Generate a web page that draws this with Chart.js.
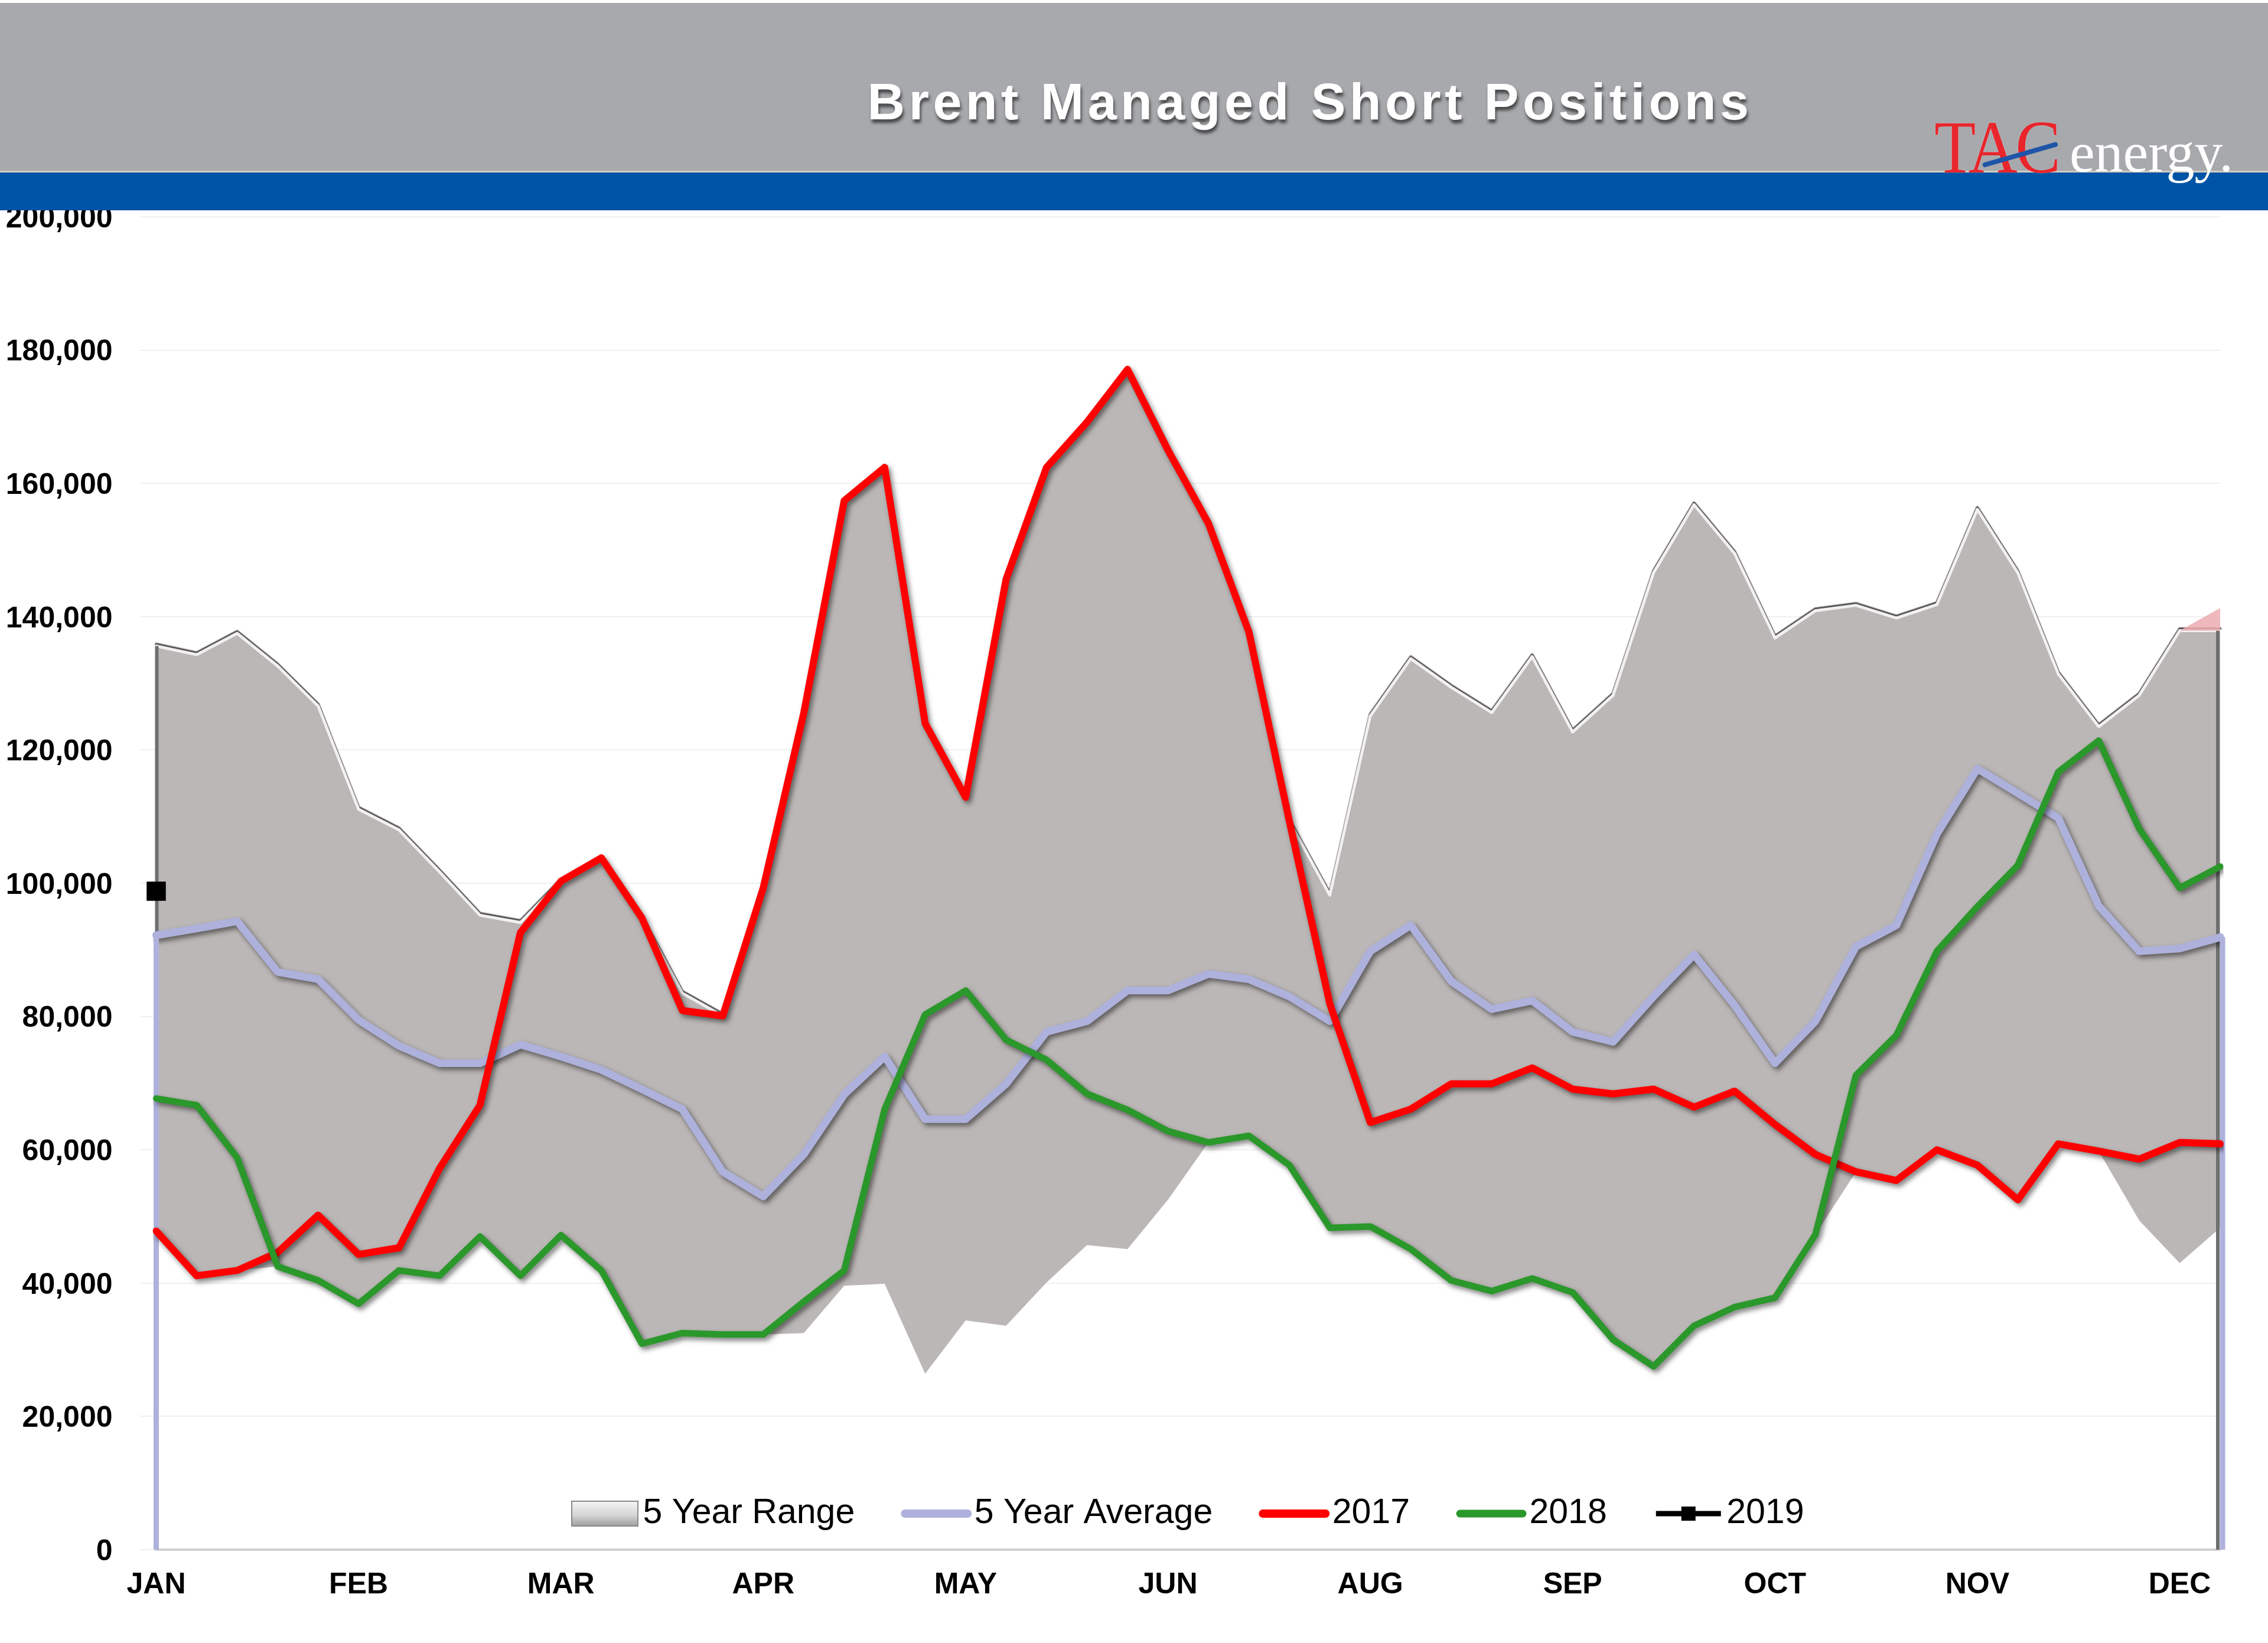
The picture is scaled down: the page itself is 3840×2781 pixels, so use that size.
<!DOCTYPE html>
<html><head><meta charset="utf-8">
<script src="https://cdn.jsdelivr.net/npm/chart.js@4.4.1/dist/chart.umd.min.js"></script>
<style>
html,body{margin:0;padding:0;background:#fff;}
#wrap{position:relative;width:3840px;height:2781px;overflow:hidden;background:#fff;}
#c{position:absolute;left:0;top:0;}
#hdrGray{position:absolute;left:0;top:5px;width:3840px;height:284px;background:#A7A9AC;}
#hdrLine{position:absolute;left:0;top:289px;width:3840px;height:3px;background:#D3CCC4;}
#hdrBlue{position:absolute;left:0;top:292px;width:3840px;height:64px;background:#0054A5;}
#title{position:absolute;left:2218px;top:128px;transform:translateX(-50%);font:bold 88px "Liberation Sans",Arial,sans-serif;line-height:1;letter-spacing:6.5px;color:#fff;white-space:nowrap;text-shadow:2px 6px 5px rgba(40,40,40,0.75);}
#logoTAC{position:absolute;left:3275px;top:185px;font:128px "Liberation Serif","Times New Roman",serif;line-height:1;color:#E8262C;letter-spacing:-4px;white-space:nowrap;transform:scaleX(0.9);transform-origin:0 0;text-shadow:0 0 2px rgba(255,255,255,0.5);}
#logoEnergy{position:absolute;left:3504px;top:210px;font:96px "Liberation Serif","Times New Roman",serif;line-height:1;color:#fff;white-space:nowrap;}
#logoSlash{position:absolute;left:3357px;top:276px;width:132px;height:8px;background:#1F55A8;transform-origin:0 50%;transform:rotate(-16deg);border-radius:4px;}
</style></head>
<body>
<div id="wrap">
<canvas id="c" width="3840" height="2781"></canvas>
<div id="hdrGray"></div>
<div id="hdrLine"></div>
<div id="hdrBlue"></div>
<div id="title">Brent Managed Short Positions</div>
<div id="logoTAC">TAC</div>
<div id="logoSlash"></div>
<div id="logoEnergy">energy.</div>
</div>
<script>
// ---- data ----
const weekLabels = ['JAN','','','','','FEB','','','','','MAR','','','','','APR','','','','','MAY','','','','','JUN','','','','','AUG','','','','','SEP','','','','','OCT','','','','','NOV','','','','','DEC',''];
const seriesNames = ['5 Year Range','5 Year Average','2017','2018','2019'];
const rangeHigh = [135600,134300,137500,132600,126600,111100,108000,101700,95200,94100,100300,103800,94800,83500,80100,99300,125500,157400,162400,124000,112900,145600,162400,169200,177100,165000,154000,137700,109300,98200,125100,133700,129400,125600,134000,122700,128200,146600,156800,149500,136800,140900,141700,139800,141800,156100,146600,131400,123500,128200,137900,137900];
const rangeLow = [47800,41100,41900,42500,40400,36900,41900,41100,47000,41100,47200,41900,30900,32500,32300,32300,32500,39600,39900,26400,34400,33600,40100,45700,45100,52500,61100,62100,57700,48300,48500,45100,40400,38800,40700,38600,31500,27500,33600,36400,37800,47300,56700,55400,60000,57700,52500,60900,59800,49400,43000,48300];
const rangeTip = [null,null,null,null,null,null,null,null,null,null,null,null,null,null,null,null,null,null,null,null,null,null,null,null,null,null,null,null,null,null,null,null,null,null,null,null,null,null,null,null,null,null,null,null,null,null,null,null,null,null,137900,141300];
const avg5 = [92200,93200,94300,86700,85600,79500,75600,73000,73000,75800,74000,72000,69100,66100,56700,53000,59300,68300,74000,64600,64600,69900,77700,79300,83900,83900,86400,85600,83000,79300,89800,93700,85300,81100,82400,77700,76200,83000,89300,81700,73000,79300,90500,93700,107400,117200,113500,109800,96600,89800,90200,91900];
const y2017 = [47800,41100,41900,44600,50200,44300,45300,57200,66700,92600,100300,103800,94800,80900,80100,99300,125500,157400,162400,124000,112900,145600,162400,169200,177100,165000,154000,137700,109300,81900,64100,66100,69900,69900,72300,69100,68400,69100,66400,68800,63800,59300,56700,55400,60000,57700,52500,60900,59800,58600,61100,60900];
const y2018 = [67700,66700,58800,42500,40400,36900,41900,41100,47000,41100,47200,41900,30900,32500,32300,32300,37200,41900,66100,80300,83900,76500,73500,68400,66000,62800,61100,62100,57700,48300,48500,45100,40400,38800,40700,38600,31500,27500,33600,36400,37800,47300,71200,77200,89800,96500,102700,116700,121400,108200,99300,102500];
const y2019 = [98800,null,null,null,null,null,null,null,null,null,null,null,null,null,null,null,null,null,null,null,null,null,null,null,null,null,null,null,null,null,null,null,null,null,null,null,null,null,null,null,null,null,null,null,null,null,null,null,null,null,null,null];
const yMin = 0, yMax = 200000, yStep = 20000;

// ---- styles ----
const C_RANGE = '#BBB7B6', C_AVG = '#AEB1DB', C_2017 = '#FF0000', C_2018 = '#2A982A', C_2019 = '#000000';
const LEG_FS = 59, LEG_PAD = 103, LEG_BOXW = 70, LEG_CENTER_ABOVE_AXIS = 61, LEG_SHIFT = 20;
const FONT = '"Liberation Sans", Arial, sans-serif';
const lineShadow = {color:'rgba(0,0,0,0.5)', blur:8, x:4, y:5};

function mk(w,h,draw){const c=document.createElement('canvas');c.width=w;c.height=h;draw(c.getContext('2d'),w,h);return c;}
const iconRange = mk(114,44,(g,w,h)=>{const gr=g.createLinearGradient(0,0,0,h);gr.addColorStop(0,'#f6f6f6');gr.addColorStop(0.55,'#d6d6d6');gr.addColorStop(1,'#9c9c9c');g.fillStyle=gr;g.fillRect(1,1,w-2,h-2);g.strokeStyle='#8a8a8a';g.lineWidth=2;g.strokeRect(1,1,w-2,h-2);});
function lineIcon(col,lw){return mk(122,22,(g,w,h)=>{g.strokeStyle=col;g.lineWidth=lw;g.lineCap='round';g.beginPath();g.moveTo(8,h/2);g.lineTo(w-8,h/2);g.stroke();});}
const iconAvg = lineIcon(C_AVG,14), icon17 = lineIcon(C_2017,14), icon18 = lineIcon(C_2018,13);
const icon19 = mk(122,30,(g,w,h)=>{g.strokeStyle=C_2019;g.lineWidth=9;g.beginPath();g.moveTo(6,h/2);g.lineTo(w-6,h/2);g.stroke();g.fillStyle=C_2019;g.fillRect(w/2-12,h/2-12,24,24);});
const legendIcons = [iconRange, iconAvg, icon17, icon18, icon19];
const legendDatasetIdx = [1,3,4,5,6];

const fxPlugin = {
  id:'fx',
  afterLayout(chart){
    const lg = chart.legend, ca = chart.chartArea; if(!lg) return;
    const h = lg.height;
    const top = ca.bottom - LEG_CENTER_ABOVE_AXIS - LEG_PAD - LEG_FS/2;
    lg.top = top; lg.bottom = top + h; lg.left = ca.left + LEG_SHIFT; lg.right = ca.right; lg.width = lg.right - lg.left;
  },
  beforeDatasetDraw(chart,args){
    const ds = chart.data.datasets[args.index];
    if(ds.shadow){const c=chart.ctx;c.save();c.shadowColor=ds.shadow.color;c.shadowBlur=ds.shadow.blur;c.shadowOffsetX=ds.shadow.x;c.shadowOffsetY=ds.shadow.y;}
  },
  afterDatasetDraw(chart,args){
    const ds = chart.data.datasets[args.index];
    const c = chart.ctx;
    if(ds.shadow) c.restore();
    if(ds.edges){
      const pts = args.meta.data, yb = chart.scales.y.getPixelForValue(yMin);
      const p0 = pts[0], p1 = pts[pts.length-1], e = ds.edges;
      c.save(); c.strokeStyle=e.color; c.lineWidth=e.width; c.lineCap='butt';
      c.beginPath(); c.moveTo(p0.x+e.dx0,p0.y); c.lineTo(p0.x+e.dx0,yb);
      c.moveTo(p1.x+e.dx1,p1.y); c.lineTo(p1.x+e.dx1,yb); c.stroke(); c.restore();
    }
  }
};

const common = {pointRadius:0, pointHoverRadius:0, tension:0, borderJoinStyle:'round', borderCapStyle:'round'};
new Chart(document.getElementById('c').getContext('2d'), {
  type:'line',
  data:{
    labels: weekLabels,
    datasets:[
      Object.assign({label:'low', data:rangeLow, borderWidth:0, fill:false, order:10}, common),
      Object.assign({label:seriesNames[0], data:rangeHigh, borderColor:'#F2F0F0', borderWidth:5, backgroundColor:C_RANGE, fill:'-1', order:9,
        shadow:{color:'rgba(70,70,70,0.95)', blur:1.5, x:0, y:-3}, edges:{color:'#6f6f6f', width:6, dx0:1, dx1:-4}}, common),
      Object.assign({label:'tip', data:rangeTip, borderWidth:0, backgroundColor:'rgba(236,172,176,0.85)', fill:1, order:8}, common),
      Object.assign({label:seriesNames[1], data:avg5, borderColor:C_AVG, borderWidth:13, fill:false, order:7, shadow:lineShadow,
        edges:{color:C_AVG, width:9, dx0:0, dx1:4}}, common),
      Object.assign({label:seriesNames[2], data:y2017, borderColor:C_2017, borderWidth:12, fill:false, order:6, shadow:lineShadow}, common),
      Object.assign({label:seriesNames[3], data:y2018, borderColor:C_2018, borderWidth:11, fill:false, order:5, shadow:lineShadow}, common),
      Object.assign({}, common, {label:seriesNames[4], data:y2019, borderColor:C_2019, borderWidth:8, fill:false, order:4, clip:false,
        pointStyle:'rect', pointRadius:23, pointBackgroundColor:C_2019, pointBorderColor:C_2019, pointBorderWidth:0})
    ]
  },
  options:{
    responsive:false, animation:false, events:[], devicePixelRatio:1,
    layout:{padding:{top:367-(LEG_FS+LEG_PAD+10), right:81, bottom:0, left:0}},
    plugins:{
      tooltip:{enabled:false}, title:{display:false},
      filler:{propagate:false},
      legend:{
        display:true, position:'top', align:'center',
        labels:{
          usePointStyle:true, pointStyleWidth:LEG_BOXW, padding:LEG_PAD, color:'#000',
          font:{family:FONT, size:LEG_FS, weight:'normal'},
          generateLabels:()=>seriesNames.map((n,i)=>({text:n, pointStyle:legendIcons[i], fillStyle:'rgba(0,0,0,0)', strokeStyle:'rgba(0,0,0,0)', lineWidth:0, hidden:false, datasetIndex:legendDatasetIdx[i], fontColor:'#000'}))
        }
      }
    },
    scales:{
      x:{
        type:'category', offset:false,
        grid:{display:true, color:'rgba(0,0,0,0)', drawTicks:false},
        border:{display:true, color:'#CFCFCF', width:4},
        ticks:{autoSkip:false, maxRotation:0, minRotation:0, padding:30, color:'#000', font:{family:FONT, size:50, weight:'bold'}},
        afterFit:(s)=>{s.height=158;}
      },
      y:{
        min:yMin, max:yMax,
        grid:{color:'#F0F0F0', lineWidth:2, drawTicks:true, tickLength:27},
        border:{display:false},
        ticks:{stepSize:yStep, padding:47, labelOffset:4, color:'#000', font:{family:FONT, size:50, weight:'bold'},
          callback:(v)=>Number(v).toLocaleString('en-US')},
        afterFit:(s)=>{s.width=264.5;}
      }
    }
  },
  plugins:[fxPlugin]
});
</script>
</body></html>
